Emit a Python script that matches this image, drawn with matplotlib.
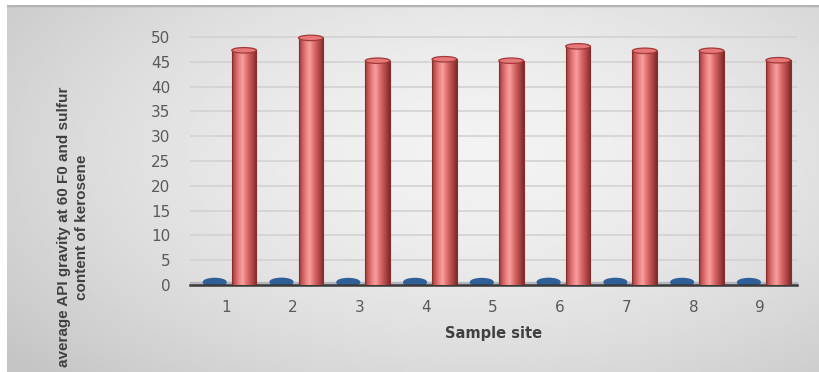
import numpy as np
import matplotlib
matplotlib.use('Agg')
import matplotlib.pyplot as plt
from matplotlib.patches import Ellipse, Rectangle
from matplotlib.colors import LinearSegmentedColormap

sites = ['1', '2', '3', '4', '5', '6', '7', '8', '9']
api_gravity = [47.3, 49.8, 45.2, 45.5, 45.2, 48.1, 47.2, 47.2, 45.3]
sulfur = [0.12, 0.15, 0.10, 0.11, 0.10, 0.14, 0.13, 0.12, 0.10]

fig = plt.figure(figsize=(8.2, 3.72), dpi=100)
fig.patch.set_facecolor('white')

# grey chart-area backdrop with a soft radial shading
bg = fig.add_axes([7 / 820, 0, 1 - 7 / 820, 1 - 5 / 372])
bg.set_axis_off()
yy, xx = np.mgrid[0:1:200j, 0:1:400j]
d = np.sqrt(((xx - 0.58) / 0.8) ** 2 + ((yy - 0.4) / 0.95) ** 2)
shade = np.clip(0.95 - 0.2 * d ** 1.6, 0.77, 0.95)
bg.imshow(shade, cmap='gray', vmin=0, vmax=1, extent=(0, 1, 0, 1),
          aspect='auto', origin='upper')
bg.set_xlim(0, 1)
bg.set_ylim(0, 1)
bg.axhline(1, color='#b4b4b4', lw=2.5)

ax = fig.add_axes([190 / 820, (372 - 285) / 372, 607 / 820, 258 / 372])
ax.patch.set_alpha(0)
x = np.arange(len(sites))
ax.set_xlim(-0.54, 8.55)
ax.set_ylim(0, 52)

ax.set_yticks(range(0, 51, 5))
ax.grid(axis='y', color='#d2d2d2', lw=1.2)
ax.set_axisbelow(True)
for s in ['top', 'right', 'left']:
    ax.spines[s].set_visible(False)
ax.spines['bottom'].set_color('#3a3a3a')
ax.spines['bottom'].set_linewidth(1.8)
ax.tick_params(length=0, labelsize=11, labelcolor='#5a5a5a')
ax.tick_params(axis='x', pad=11)
ax.tick_params(axis='y', pad=14)
ax.set_xticks(x)
ax.set_xticklabels(sites)

# floor strip
ax.add_patch(Rectangle((-0.54, 0), 9.09, 0.6, color='#b4b8bd', zorder=1.5,
                       clip_on=False))

red_cmap = LinearSegmentedColormap.from_list(
    'cyl', ['#983a3a', '#cc5e5e', '#ec8282', '#f5a0a0', '#e47676',
            '#c85858', '#a64242', '#7c2a2a'])
grad = np.linspace(0, 1, 64).reshape(1, -1)

# blue series: flat discs on the floor
bw = 0.34
blue = ax.bar(x - 0.17, sulfur, width=bw, color='#2f5f98', zorder=2)
for xi, v in zip(x - 0.17, sulfur):
    ax.add_patch(Ellipse((xi, v + 0.45), bw, 1.5, color='#2f5f98', zorder=2.1))

# red series: shaded cylinders
rw = 0.37
bars = ax.bar(x + 0.27, api_gravity, width=rw, color='#d86464', zorder=3)
for b, v in zip(bars, api_gravity):
    x0 = b.get_x()
    im = ax.imshow(grad, cmap=red_cmap, extent=(x0, x0 + rw, 0, v),
                   aspect='auto', zorder=3.1)
    im.set_clip_path(b)
    ax.add_patch(Ellipse((x0 + rw / 2, 0.3), rw, 1.0, facecolor='#c85a5a',
                         edgecolor='none', zorder=3.05))
    ax.add_patch(Ellipse((x0 + rw / 2, v), rw, 1.1, facecolor='#e87878',
                         edgecolor='#a13a3a', lw=0.9, zorder=3.3))
    ax.plot([x0, x0], [0, v], color='#8a2c2c', lw=0.8, zorder=3.2)
    ax.plot([x0 + rw, x0 + rw], [0, v], color='#8a2c2c', lw=0.8, zorder=3.2)

ax.set_xlabel('Sample site', fontsize=10.5, fontweight='bold',
              color='#404040', labelpad=8)
fig.text(0.089, 0.39, 'average API gravity at 60 F0 and sulfur\ncontent of kerosene',
         rotation=90, ha='center', va='center', fontsize=11,
         fontweight='bold', color='#404040', linespacing=1.35,
         family=['Liberation Sans', 'DejaVu Sans'])

fig.savefig('out.png', dpi=100)
